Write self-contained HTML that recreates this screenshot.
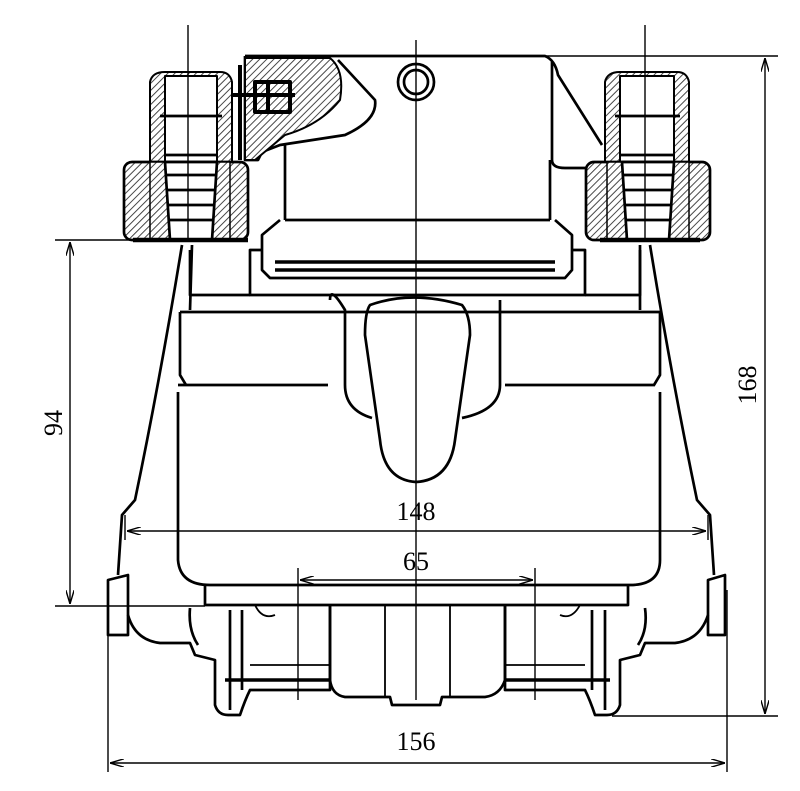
<!DOCTYPE html>
<html><head><meta charset="utf-8"><style>
html,body{margin:0;padding:0;background:#fff;width:800px;height:791px;overflow:hidden}
svg{display:block}
text{font-family:"Liberation Serif",serif;font-size:26px;fill:#000}
</style></head><body>
<svg width="800" height="791" viewBox="0 0 800 791" xmlns="http://www.w3.org/2000/svg">
<defs>
<pattern id="h" width="5" height="5" patternUnits="userSpaceOnUse" patternTransform="rotate(45)">
<rect width="5" height="5" fill="#fff"/><line x1="0" y1="0" x2="0" y2="5" stroke="#333" stroke-width="1.8"/></pattern>
<marker id="a" viewBox="0 0 10 6" refX="10" refY="3" markerWidth="10" markerHeight="6" orient="auto-start-reverse"><path d="M0,0L10,3L0,6" fill="none" stroke="#000" stroke-width="1"/></marker>
</defs>
<g fill="none" stroke="#000" stroke-width="2.7" stroke-linejoin="round">
<path d="M245,56 L545,56 Q555,60 558,75 L602,145 M552,62 L552,160 Q552,168 565,168 L590,168"/>
<path d="M245,56 L245,160 L258,160 L262,152 L280,145 L345,135 Q378,120 375,100 L338,60"/>
<path d="M285,145 L285,220 M550,160 L550,220 M285,220 L550,220"/>
<circle cx="416" cy="82" r="18"/><circle cx="416" cy="82" r="12"/>
<path d="M280,220 L262,235 L262,270 L270,278 L565,278 L572,270 L572,235 L555,220"/>
<path d="M275,262 L555,262 M275,270 L555,270" stroke-width="3.5"/>
<path d="M262,250 L250,250 L250,295 L585,295 L585,250 L572,250"/>
<path d="M245,58 L330,58 Q345,70 340,100 Q320,125 285,135 L255,160 L245,160 Z" fill="url(#h)" stroke-width="2"/>
<path d="M192,95 L295,95 M255,82 L255,112 L290,112 L290,82 Z M268,82 L268,112 M240,65 L240,160" stroke-width="4"/>
<path d="M150,82 Q152,72 165,72 L220,72 Q230,72 232,82 L232,162 L150,162 Z" fill="url(#h)" stroke-width="2"/>
<rect x="165" y="76" width="52" height="86" fill="#fff" stroke-width="2"/>
<path d="M160,116 L222,116 M165,155 L217,155"/>
<rect x="124" y="162" width="124" height="78" rx="8" fill="url(#h)"/>
<rect x="150" y="162" width="80" height="78" fill="url(#h)" stroke-width="1.5"/>
<path d="M165,162 L217,162 L212,240 L170,240 Z" fill="#fff"/>
<path d="M167,175 L215,175 M168,190 L214,190 M168,205 L214,205 M169,220 L213,220"/>
<path d="M133,240 L248,240" stroke-width="4.5"/>
<path d="M605,82 Q607,72 620,72 L677,72 Q687,72 689,82 L689,162 L605,162 Z" fill="url(#h)" stroke-width="2"/>
<rect x="620" y="76" width="54" height="86" fill="#fff" stroke-width="2"/>
<path d="M615,116 L680,116 M620,155 L675,155"/>
<rect x="586" y="162" width="124" height="78" rx="8" fill="url(#h)"/>
<rect x="607" y="162" width="82" height="78" fill="url(#h)" stroke-width="1.5"/>
<path d="M622,162 L674,162 L669,240 L627,240 Z" fill="#fff"/>
<path d="M624,175 L672,175 M625,190 L671,190 M625,205 L671,205 M626,220 L670,220"/>
<path d="M600,240 L700,240" stroke-width="4.5"/>
<path d="M182,245 Q160,380 135,500 L122,515 L118,575 M192,245 L190,310"/>
<path d="M650,245 Q672,380 697,500 L710,515 L714,575 M640,245 L640,310"/>
<path d="M190,250 L190,295 L250,295 M640,250 L640,295 L585,295"/>
<path d="M180,312 L660,312 M180,312 L180,375 L186,385 M660,312 L660,375 L654,385"/>
<path d="M178,385 L328,385 M505,385 L655,385"/>
<path d="M178,392 L178,560 Q180,585 210,585 L630,585 Q660,585 660,560 L660,392"/>
<path d="M330,300 Q330,285 345,310 L345,385 Q345,410 372,418 M500,300 L500,385 Q500,410 462,418"/>
<path d="M370,305 Q412,290 462,305 Q470,315 470,335 L455,440 Q450,480 416,482 Q384,480 380,440 L365,335 Q365,312 370,305 Z"/>
<path d="M205,585 L205,605 L628,605 L628,585"/>
<path d="M108,580 L128,575 L128,635 L108,635 Z"/>
<path d="M708,580 L725,575 L725,635 L708,635 Z"/>
<path d="M128,615 Q135,640 160,643 L190,643 L195,655 L215,660 L215,705 Q218,715 228,715 L240,715 Q245,700 250,690 L330,690 L330,605"/>
<path d="M708,615 Q700,640 675,643 L645,643 L640,655 L620,660 L620,705 Q617,715 607,715 L595,715 Q590,700 585,690 L505,690 L505,605"/>
<path d="M190,608 Q188,630 198,645 M645,608 Q648,630 638,645"/>
<path d="M230,610 L230,710 M242,610 L242,690 M605,610 L605,710 M592,610 L592,690"/>
<path d="M330,605 L330,680 Q332,695 345,697 L390,697 L392,705 L440,705 L442,697 L485,697 Q500,695 505,680 L505,605"/>
<path d="M385,605 L385,697 M450,605 L450,697 M250,665 L330,665 M505,665 L585,665" stroke-width="1.8"/>
<path d="M225,680 L330,680 M505,680 L610,680" stroke-width="3.5"/>
<path d="M255,605 Q262,620 275,615 M580,605 Q572,620 560,615" stroke-width="1.8"/>
</g>
<g stroke="#000" stroke-width="1.4" fill="none">
<path d="M416,40 L416,700"/>
<path d="M188,25 L188,240 M645,25 L645,240"/>
<path d="M545,56 L778,56 M612,716 L778,716"/>
<path d="M55,240 L185,240 M55,606 L205,606"/>
<path d="M108,590 L108,772 M727,590 L727,772"/>
<path d="M298,568 L298,700 M535,568 L535,700"/>
<path d="M125,515 L125,540 M708,515 L708,540"/>
<path d="M765,58 L765,714" marker-start="url(#a)" marker-end="url(#a)"/>
<path d="M70,242 L70,604" marker-start="url(#a)" marker-end="url(#a)"/>
<path d="M127,531 L706,531" marker-start="url(#a)" marker-end="url(#a)"/>
<path d="M300,580 L533,580" marker-start="url(#a)" marker-end="url(#a)"/>
<path d="M110,763 L725,763" marker-start="url(#a)" marker-end="url(#a)"/>
</g>
<text x="416" y="520" text-anchor="middle">148</text>
<text x="416" y="570" text-anchor="middle">65</text>
<text x="416" y="750" text-anchor="middle">156</text>
<text transform="translate(756,385) rotate(-90)" text-anchor="middle">168</text>
<text transform="translate(62,423) rotate(-90)" text-anchor="middle">94</text>
</svg>
</body></html>
